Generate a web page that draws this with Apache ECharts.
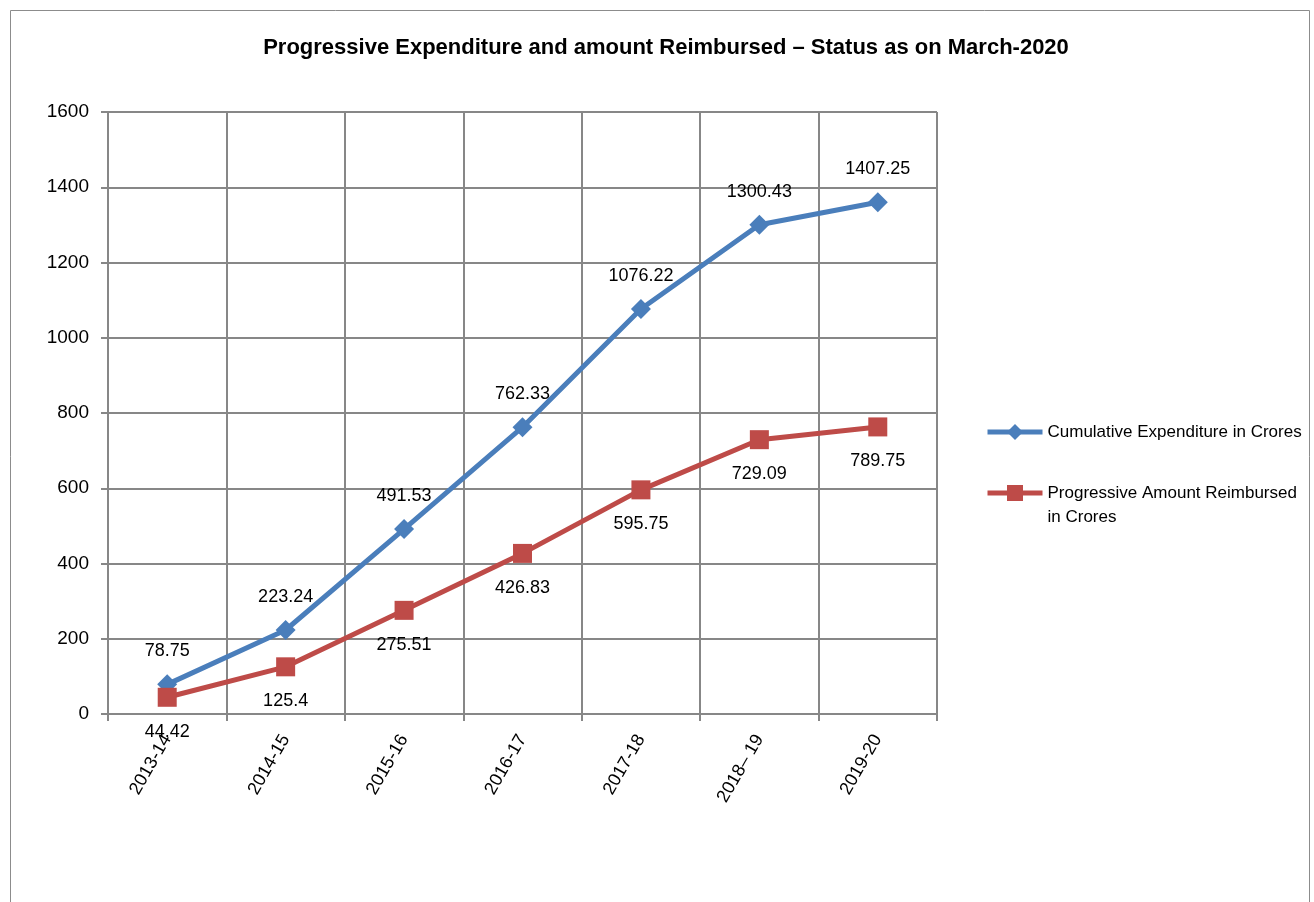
<!DOCTYPE html>
<html>
<head>
<meta charset="utf-8">
<script src="https://cdn.jsdelivr.net/npm/echarts@6/dist/echarts.min.js"></script>
<style>
html,body{margin:0;padding:0;background:#fff;}
#c{width:1314px;height:902px;}
</style>
</head>
<body>
<div id="c"></div>
<script>
const titleText = 'Progressive Expenditure and amount Reimbursed \u2013 Status as on March-2020';
const categories = ['2013-14', '2014-15', '2015-16', '2016-17', '2017-18', '2018\u2013 19', '2019-20'];
const seriesNames = ['Cumulative Expenditure in Crores', 'Progressive Amount Reimbursed in Crores'];
// plotted positions
const expenditure = [78.75, 223.24, 491.53, 762.33, 1076.22, 1300.43, 1360];
const reimbursed = [44.42, 125.4, 275.51, 426.83, 595.75, 729.09, 763];
// printed data labels
const expenditureLabels = ['78.75', '223.24', '491.53', '762.33', '1076.22', '1300.43', '1407.25'];
const reimbursedLabels = ['44.42', '125.4', '275.51', '426.83', '595.75', '729.09', '789.75'];
const yTicks = [0, 200, 400, 600, 800, 1000, 1200, 1400, 1600];

const FONT = '"Liberation Sans", Arial, sans-serif';
const chart = echarts.init(document.getElementById('c'));
chart.setOption({
  animation: false,
  backgroundColor: '#fff',
  textStyle: { fontFamily: FONT },
  title: {
    text: titleText,
    left: 661, top: 32, textAlign: 'center',
    textStyle: { fontFamily: FONT, fontSize: 22, fontWeight: 'bold', color: '#000' }
  },
  graphic: [{
    type: 'rect', shape: { x: 10.5, y: 10.5, width: 1299, height: 900 },
    style: { fill: 'none', stroke: '#8c8c8c', lineWidth: 1 }, silent: true
  }],
  grid: { left: 108, right: 377, top: 112, bottom: 188 },
  legend: [{
    data: [{ name: seriesNames[0] }], orient: 'vertical', left: 985, top: 420, padding: 0,
    itemWidth: 55, itemHeight: 20,
    lineStyle: { width: 5 },
    textStyle: { fontFamily: FONT, fontSize: 17, color: '#000', lineHeight: 24 }
  }, {
    data: [{ name: seriesNames[1] }], orient: 'vertical', left: 985, top: 457, padding: 0,
    itemWidth: 55, itemHeight: 20,
    lineStyle: { width: 5 },
    formatter: () => '\nProgressive Amount Reimbursed\nin Crores',
    textStyle: { fontFamily: FONT, fontSize: 17, color: '#000', lineHeight: 24 }
  }],
  xAxis: {
    type: 'category', data: categories, boundaryGap: true,
    axisLine: { lineStyle: { color: '#878787', width: 2 } },
    axisTick: { show: true, length: 7, lineStyle: { color: '#878787', width: 2 }, alignWithLabel: false },
    axisLabel: { rotate: 60, fontFamily: FONT, fontSize: 18, color: '#000', margin: 22, interval: 0 },
    splitLine: { show: true, interval: 0, lineStyle: { color: '#878787', width: 2 } }
  },
  yAxis: {
    type: 'value', min: 0, max: 1600, interval: 200,
    axisLine: { show: true, lineStyle: { color: '#878787', width: 2 } },
    axisTick: { show: true, length: 7, lineStyle: { color: '#878787', width: 2 } },
    axisLabel: { fontFamily: FONT, fontSize: 19, color: '#000', margin: 19,
      formatter: v => yTicks.includes(v) ? String(v) : '' },
    splitLine: { show: true, lineStyle: { color: '#878787', width: 2 } }
  },
  series: [{
    name: seriesNames[0], type: 'line', data: expenditure,
    symbol: 'diamond', symbolSize: 20,
    lineStyle: { color: '#4A7EBB', width: 5 },
    itemStyle: { color: '#4A7EBB' },
    label: { show: true, position: 'top', distance: 14, fontFamily: FONT, fontSize: 18, color: '#000',
      formatter: p => expenditureLabels[p.dataIndex] },
    z: 3
  }, {
    name: seriesNames[1], type: 'line', data: reimbursed,
    symbol: 'rect', symbolSize: 19,
    lineStyle: { color: '#BE4B48', width: 5 },
    itemStyle: { color: '#BE4B48' },
    label: { show: true, position: 'bottom', distance: 16, fontFamily: FONT, fontSize: 18, color: '#000',
      formatter: p => reimbursedLabels[p.dataIndex] },
    z: 4
  }]
});
</script>
</body>
</html>
